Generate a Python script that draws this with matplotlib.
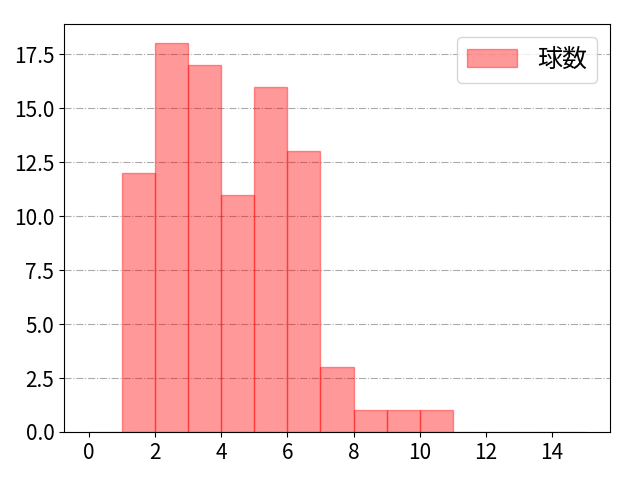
import numpy as np
import matplotlib
matplotlib.use('Agg')
import matplotlib.pyplot as plt

plt.rcParams['font.family'] = ['Noto Sans CJK JP', 'DejaVu Sans']

# ヒストグラムのビンと度数
bin_edges = list(range(0, 16))
counts = [0, 12, 18, 17, 11, 16, 13, 3, 1, 1, 1, 0, 0, 0, 0]
x_ticks = [0, 2, 4, 6, 8, 10, 12, 14]
label = '球数'

fig, ax = plt.subplots(figsize=(6.4, 4.8), dpi=100)
ax.hist(bin_edges[:-1], bins=bin_edges, weights=counts, color='red', alpha=0.4,
        edgecolor='red', linewidth=1, label=label)
ax.grid(axis='y', linestyle='-.', color='#aaaaaa')
ax.set_axisbelow(True)
ax.set_xticks(x_ticks)
ax.tick_params(labelsize=15)
ax.legend(fontsize=18, loc='upper right')
fig.subplots_adjust(left=0.10, right=0.953, top=0.95, bottom=0.10)
fig.savefig('out.png')
